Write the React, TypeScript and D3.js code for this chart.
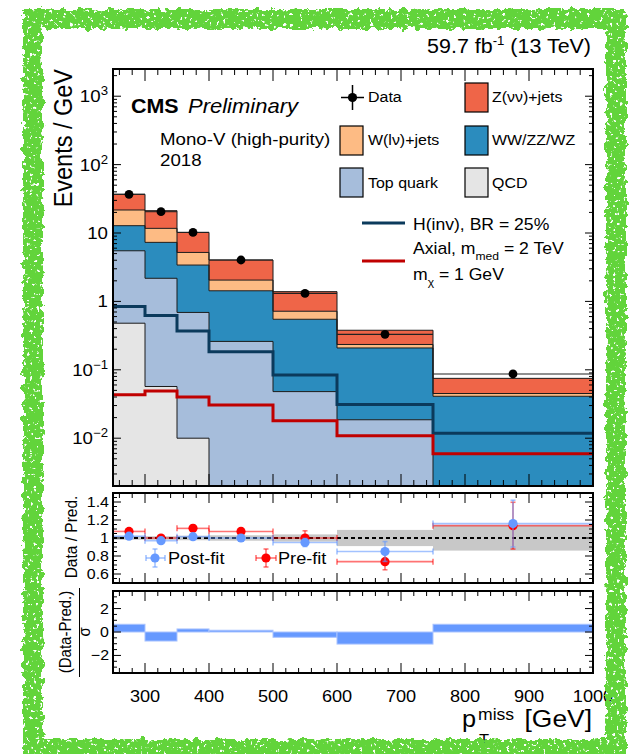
import React from 'react';
import * as d3 from 'd3';

// ---------------- data ----------------
const binEdges = [250, 300, 350, 400, 500, 600, 750, 1000];
const qcdVals = [0.48, 0.057, 0.01, 0, 0, 0, 0];
const topVals = [5.02, 2.12, 0.68, 0.26, 0.048, 0.0186, 0];
const dibosonVals = [7.3, 5.12, 2.71, 1.17, 0.5, 0.19, 0.041];
const wVals = [8.9, 4.4, 1.8, 0.62, 0.17, 0.026, 0.004];
const zVals = [15.1, 9.5, 5.0, 1.98, 0.67, 0.144, 0.03];
const dataVals = [36.8, 20.5, 10.2, 4.03, 1.31, 0.33, 0.087];
const dataErr = [0.8, 0.6, 0.4, 0.18, 0.08, 0.03, 0.012];
const hinvVals = [0.84, 0.62, 0.37, 0.184, 0.084, 0.031, 0.0118];
const axialVals = [0.043, 0.049, 0.04, 0.0305, 0.018, 0.0109, 0.0059];
const postFit = [1.02, 0.97, 1.015, 1.0, 0.95, 0.85, 1.16];
const postFitErr = [0.015, 0.02, 0.025, 0.03, 0.045, 0.11, 0.26];
const preFit = [1.073, 1.0, 1.107, 1.073, 1.0, 0.737, 1.137];
const preFitErr = [0.02, 0.02, 0.035, 0.035, 0.08, 0.09, 0.26];
const bandErr = [0.02, 0.02, 0.025, 0.03, 0.04, 0.09, 0.14];
const pullVals = [0.66, -0.77, 0.26, 0.15, -0.45, -1.03, 0.66];
const xTickVals = [300, 400, 500, 600, 700, 800, 900, 1000];
const mainYTickVals = [0.01, 0.1, 1, 10, 100, 1000];
const mainYTickBase = ['10', '10', '1', '10', '10', '10'];
const mainYTickExp = ['−2', '−1', '', '', '2', '3'];
const ratioTickVals = [0.6, 0.8, 1, 1.2, 1.4];
const ratioTickLabels = ['0.6', '0.8', '1', '1.2', '1.4'];
const pullTickVals = [-2, 0, 2];
const pullTickLabels = ['−2', '0', '2'];

const FONT = "'Liberation Sans', Arial, Helvetica, sans-serif";
const SX = 1.1;

function T(props: any) {
  const { x, y, size, anchor = 'start', weight = 'normal', fstyle = 'normal', fill = '#000', rot = false, children } = props;
  const tr = rot ? `translate(${x},${y}) rotate(-90) scale(1,${SX})` : `translate(${x},${y}) scale(${SX},1)`;
  return (
    <text transform={tr} fontSize={size} textAnchor={anchor} fontWeight={weight} fontStyle={fstyle} fill={fill} fontFamily={FONT}>
      {children}
    </text>
  );
}

export default function App() {
  const W = 637, H = 754;
  const X0 = 113, X1 = 593;
  const MT = 69, MB = 486, RT = 493, RB = 583, PT = 591, PB = 673;
  const ymin = 0.002;
  const x = d3.scaleLinear().domain([250, 1000]).range([X0, X1]);
  const y = d3.scaleLog().domain([ymin, 2500]).range([MB, MT]);
  const yr = d3.scaleLinear().domain([0.5, 1.5]).range([RB, RT]);
  const yp = d3.scaleLinear().domain([-3.5, 3.5]).range([PB, PT]);
  const nb = binEdges.length - 1;
  const bins = d3.range(nb);
  const centers = bins.map((i) => (binEdges[i] + binEdges[i + 1]) / 2);

  const layers = [
    { vals: qcdVals, color: '#e5e5e5' },
    { vals: topVals, color: '#a6bddb' },
    { vals: dibosonVals, color: '#2b8cbe' },
    { vals: wVals, color: '#fdbb84' },
    { vals: zVals, color: '#ef6548' },
  ];
  const cum: number[][] = [];
  layers.forEach((l, j) => {
    cum.push(l.vals.map((v, i) => v + (j > 0 ? cum[j - 1][i] : 0)));
  });
  const cl = (v: number) => Math.max(v, ymin);
  const stepPath = (vals: number[], ys: (v: number) => number) => {
    const pts: [number, number][] = vals.map((v, i) => [x(binEdges[i]), ys(v)] as [number, number]);
    pts.push([x(binEdges[nb]), ys(vals[nb - 1])]);
    return d3.line().curve(d3.curveStepAfter)(pts) as string;
  };

  const xMinor = d3.range(260, 1000, 20).filter((v) => v % 100 !== 0);
  const mainMinor: number[] = [];
  for (let k = -3; k <= 3; k++) for (let m = 2; m <= 9; m++) {
    const v = m * Math.pow(10, k);
    if (v > ymin && v < 2500) mainMinor.push(v);
  }
  const ratioMinor = d3.range(0.5, 1.5001, 0.05).filter((v) => !ratioTickVals.some((t) => Math.abs(t - v) < 1e-6));
  const pullMinor = d3.range(-3.5, 3.5001, 0.5).filter((v) => !pullTickVals.some((t) => Math.abs(t - v) < 1e-6));

  const xTicks = (top: number, bot: number, maj: number, min: number, key: string) => (
    <g key={key} stroke="#000" strokeWidth={1}>
      {xTickVals.map((v) => (
        <g key={v}>
          <line x1={x(v)} x2={x(v)} y1={bot} y2={bot - maj} />
          <line x1={x(v)} x2={x(v)} y1={top} y2={top + maj} />
        </g>
      ))}
      {xMinor.map((v) => (
        <g key={v}>
          <line x1={x(v)} x2={x(v)} y1={bot} y2={bot - min} />
          <line x1={x(v)} x2={x(v)} y1={top} y2={top + min} />
        </g>
      ))}
    </g>
  );
  const yTicks = (vals: number[], minors: number[], sc: (v: number) => number, maj: number, min: number, key: string) => (
    <g key={key} stroke="#000" strokeWidth={1}>
      {vals.map((v) => (
        <g key={v}>
          <line x1={X0} x2={X0 + maj} y1={sc(v)} y2={sc(v)} />
          <line x1={X1} x2={X1 - maj} y1={sc(v)} y2={sc(v)} />
        </g>
      ))}
      {minors.map((v) => (
        <g key={v}>
          <line x1={X0} x2={X0 + min} y1={sc(v)} y2={sc(v)} />
          <line x1={X1} x2={X1 - min} y1={sc(v)} y2={sc(v)} />
        </g>
      ))}
    </g>
  );

  const errPoint = (cx: number, cy: number, x1: number, x2: number, y1: number, y2: number, col: string, lcol: string, key: string) => (
    <g key={key}>
      <g stroke={lcol} strokeWidth={1.6}>
        <line x1={x1} x2={x2} y1={cy} y2={cy} />
        <line x1={x1} x2={x1} y1={cy - 3} y2={cy + 3} />
        <line x1={x2} x2={x2} y1={cy - 3} y2={cy + 3} />
        <line x1={cx} x2={cx} y1={y1} y2={y2} />
        <line x1={cx - 2.5} x2={cx + 2.5} y1={y1} y2={y1} />
        <line x1={cx - 2.5} x2={cx + 2.5} y1={y2} y2={y2} />
      </g>
      <circle cx={cx} cy={cy} r={4.6} fill={col} />
    </g>
  );

  return (
    <svg width={W} height={H} style={{ position: 'absolute', left: 0, top: 0, background: '#fff' }} fontFamily={FONT}>
      <defs>
        <clipPath id="cMain"><rect x={X0} y={MT} width={X1 - X0} height={MB - MT} /></clipPath>
        <clipPath id="cRat"><rect x={X0} y={RT} width={X1 - X0} height={RB - RT} /></clipPath>
        <clipPath id="cPull"><rect x={X0} y={PT} width={X1 - X0} height={PB - PT} /></clipPath>
        <filter id="rough" x="-10%" y="-10%" width="120%" height="120%">
          <feTurbulence type="fractalNoise" baseFrequency="0.13" numOctaves="3" seed="7" result="n1" />
          <feDisplacementMap in="SourceGraphic" in2="n1" scale="9" xChannelSelector="R" yChannelSelector="G" result="d" />
          <feTurbulence type="fractalNoise" baseFrequency="0.3" numOctaves="2" seed="3" result="n2" />
          <feColorMatrix in="n2" type="matrix" values="0 0 0 0 0  0 0 0 0 0  0 0 0 0 0  14 0 0 0 -9.1" result="holes" />
          <feComposite in="d" in2="holes" operator="out" />
        </filter>
      </defs>
      <rect x={0} y={0} width={W} height={H} fill="#fff" />

      {/* ---------- main panel ---------- */}
      <g clipPath="url(#cMain)">
        {layers.map((l, j) =>
          bins.map((i) => {
            const top = cum[j][i];
            const bot = j > 0 ? cum[j - 1][i] : ymin;
            if (top <= ymin || l.vals[i] <= 0) return null;
            return (
              <rect key={`${j}-${i}`} x={x(binEdges[i])} width={x(binEdges[i + 1]) - x(binEdges[i])}
                y={y(top)} height={y(cl(bot)) - y(top)} fill={l.color} />
            );
          })
        )}
        {layers.map((l, j) => (
          <path key={`o${j}`} d={stepPath(cum[j].map(cl), y)} fill="none" stroke="#1a1a1a" strokeWidth={1} />
        ))}
        <path d={stepPath(hinvVals, y)} fill="none" stroke="#0b3a5c" strokeWidth={3} />
        <path d={stepPath(axialVals, y)} fill="none" stroke="#c00000" strokeWidth={3} />
        {bins.map((i) => (
          <g key={`d${i}`}>
            <line x1={x(binEdges[i])} x2={x(binEdges[i + 1])} y1={y(dataVals[i])} y2={y(dataVals[i])} stroke="#222" strokeWidth={1.1} />
            <line x1={x(centers[i])} x2={x(centers[i])} y1={y(dataVals[i] - dataErr[i])} y2={y(dataVals[i] + dataErr[i])} stroke="#000" strokeWidth={1.5} />
            <circle cx={x(centers[i])} cy={y(dataVals[i])} r={4.4} fill="#000" />
          </g>
        ))}
      </g>
      {xTicks(MT, MB, 12, 6, 'xtm')}
      {yTicks(mainYTickVals, mainMinor, y, 8, 4, 'ytm')}
      <rect x={X0} y={MT} width={X1 - X0} height={MB - MT} fill="none" stroke="#000" strokeWidth={2} />
      {mainYTickVals.map((v, k) => (
        <T key={v} x={108} y={y(v) + 6} size={17} anchor="end">
          {mainYTickBase[k]}
          {mainYTickExp[k] ? <tspan dy={-7} fontSize={12}>{mainYTickExp[k]}</tspan> : null}
        </T>
      ))}
      <T x={72} y={MT} size={23.5} anchor="end" rot>Events / GeV</T>

      {/* CMS labels */}
      <T x={131} y={113} size={19.5} weight="bold">CMS</T>
      <T x={188} y={113} size={20} fstyle="italic">Preliminary</T>
      <T x={160} y={145} size={17}>Mono-V (high-purity)</T>
      <T x={160} y={166} size={17}>2018</T>
      <T x={591} y={53} size={19.5} anchor="end">
        59.7 fb<tspan dy={-8} fontSize={12}>-1</tspan><tspan dy={8}> (13 TeV)</tspan>
      </T>

      {/* legend */}
      <g>
        <line x1={341} x2={364} y1={97.5} y2={97.5} stroke="#000" strokeWidth={1.5} />
        <line x1={352.5} x2={352.5} y1={85} y2={110} stroke="#000" strokeWidth={1.5} />
        <circle cx={352.5} cy={97.5} r={4.6} fill="#000" />
        <T x={368} y={102} size={14.5}>Data</T>
        <rect x={340} y={126} width={23} height={29} fill="#fdbb84" stroke="#000" strokeWidth={1.2} />
        <T x={368} y={145} size={14.5}>W(lν)+jets</T>
        <rect x={340} y={168} width={23} height={29} fill="#a6bddb" stroke="#000" strokeWidth={1.2} />
        <T x={368} y={188} size={14.5}>Top quark</T>
        <rect x={465} y={83} width={23} height={29} fill="#ef6548" stroke="#000" strokeWidth={1.2} />
        <T x={492} y={102} size={14.5}>Z(νν)+jets</T>
        <rect x={465} y={126} width={23} height={29} fill="#2b8cbe" stroke="#000" strokeWidth={1.2} />
        <T x={492} y={145} size={14.5}>WW/ZZ/WZ</T>
        <rect x={465} y={168} width={23} height={29} fill="#e5e5e5" stroke="#000" strokeWidth={1.2} />
        <T x={492} y={188} size={14.5}>QCD</T>
        <line x1={362} x2={405} y1={223} y2={223} stroke="#0b3a5c" strokeWidth={3} />
        <T x={413} y={230} size={16}>H(inv), BR = 25%</T>
        <T x={413} y={254} size={16}>Axial, m<tspan dy={6} fontSize={11}>med</tspan><tspan dy={-6}> = 2 TeV</tspan></T>
        <line x1={362} x2={405} y1={261} y2={261} stroke="#c00000" strokeWidth={3} />
        <T x={413} y={280} size={16}>m<tspan dy={6} fontSize={11}>χ</tspan><tspan dy={-6}> = 1 GeV</tspan></T>
      </g>

      {/* ---------- ratio panel ---------- */}
      <g clipPath="url(#cRat)">
        {bins.map((i) => (
          <rect key={`b${i}`} x={x(binEdges[i])} width={x(binEdges[i + 1]) - x(binEdges[i])}
            y={yr(1 + bandErr[i])} height={yr(1 - bandErr[i]) - yr(1 + bandErr[i])} fill="#c8c8c8" />
        ))}
        <line x1={X0} x2={X1} y1={yr(1)} y2={yr(1)} stroke="#000" strokeWidth={2} strokeDasharray="4 3" />
        {bins.map((i) =>
          errPoint(x(centers[i]), yr(preFit[i]), x(binEdges[i]), x(binEdges[i + 1]),
            yr(preFit[i] - preFitErr[i]), yr(preFit[i] + preFitErr[i]), '#ff0000', 'rgba(255,0,0,0.55)', `pr${i}`)
        )}
        {bins.map((i) =>
          errPoint(x(centers[i]), yr(postFit[i]), x(binEdges[i]), x(binEdges[i + 1]),
            yr(postFit[i] - postFitErr[i]), yr(postFit[i] + postFitErr[i]), '#6699ff', 'rgba(102,153,255,0.6)', `po${i}`)
        )}
        {errPoint(155, 558, 146, 165, 549, 567, '#6699ff', 'rgba(102,153,255,0.6)', 'lg1')}
        {errPoint(266, 558, 256, 276, 549, 567, '#ff0000', 'rgba(255,0,0,0.55)', 'lg2')}
      </g>
      <T x={168} y={564} size={16.5}>Post-fit</T>
      <T x={278} y={564} size={16.5}>Pre-fit</T>
      {xTicks(RT, RB, 10, 5, 'xtr')}
      {yTicks(ratioTickVals, ratioMinor, yr, 8, 4, 'ytr')}
      <rect x={X0} y={RT} width={X1 - X0} height={RB - RT} fill="none" stroke="#000" strokeWidth={2} />
      {ratioTickVals.map((v, k) => (
        <T key={v} x={109} y={yr(v) + 5} size={14.5} anchor="end">{ratioTickLabels[k]}</T>
      ))}
      <T x={77} y={537} size={15.5} anchor="middle" rot>Data / Pred.</T>

      {/* ---------- pull panel ---------- */}
      <g clipPath="url(#cPull)">
        {bins.map((i) => (
          <rect key={`p${i}`} x={x(binEdges[i])} width={x(binEdges[i + 1]) - x(binEdges[i])}
            y={Math.min(yp(pullVals[i]), yp(0))} height={Math.abs(yp(pullVals[i]) - yp(0))}
            fill="#6699ff" stroke="#a9c3ff" strokeWidth={1} />
        ))}
      </g>
      {xTicks(PT, PB, 10, 5, 'xtp')}
      {yTicks(pullTickVals, pullMinor, yp, 8, 4, 'ytp')}
      <rect x={X0} y={PT} width={X1 - X0} height={PB - PT} fill="none" stroke="#000" strokeWidth={2} />
      {pullTickVals.map((v, k) => (
        <T key={v} x={109} y={yp(v) + 5} size={14.5} anchor="end">{pullTickLabels[k]}</T>
      ))}
      <T x={71} y={632} size={15} anchor="middle" rot>(Data-Pred.)</T>
      <line x1={79.5} x2={79.5} y1={588} y2={677} stroke="#000" strokeWidth={1} />
      <T x={90} y={632} size={15} anchor="middle" rot>σ</T>

      {/* x axis labels */}
      {xTickVals.map((v) => (
        <T key={v} x={x(v)} y={702} size={16.5} anchor="middle">{String(v)}</T>
      ))}
      <T x={462} y={727} size={23}>p</T>
      <T x={478} y={720} size={16}>miss</T>
      <T x={479} y={744} size={15}>T</T>
      <T x={592} y={727} size={24} anchor="end">[GeV]</T>

      {/* green hand-drawn frame */}
      <rect x={33} y={19} width={583} height={730} fill="none" stroke="#62d43a" strokeWidth={20} filter="url(#rough)" />
    </svg>
  );
}
